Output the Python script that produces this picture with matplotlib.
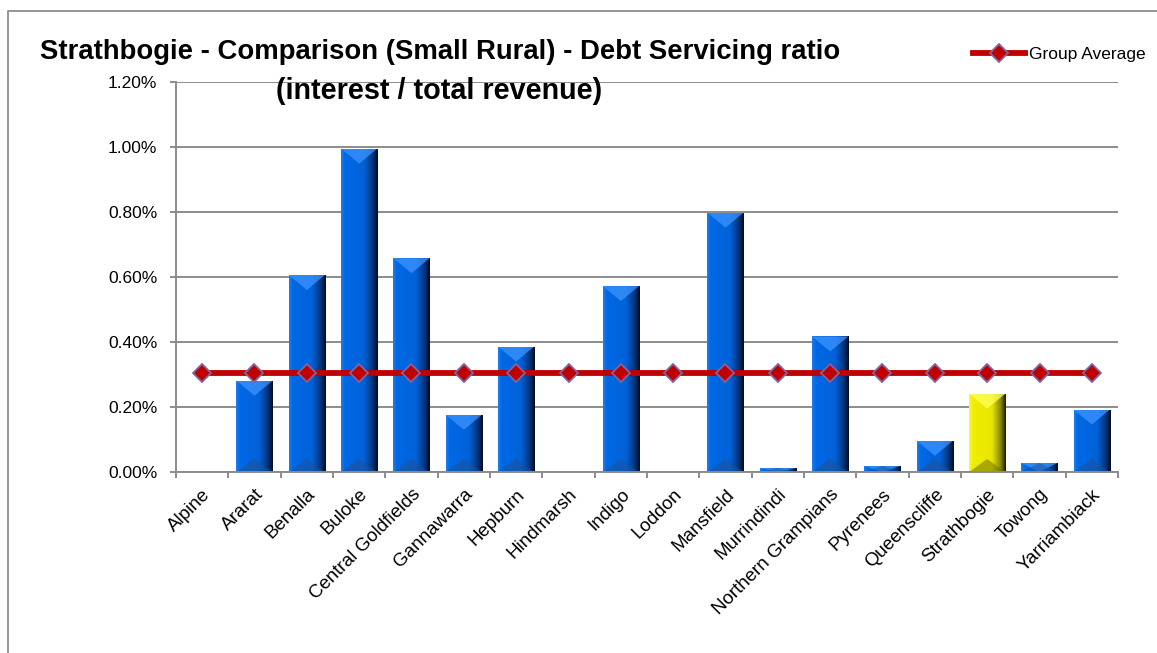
import numpy as np
import matplotlib
matplotlib.use("Agg")
import matplotlib.pyplot as plt
from matplotlib.patches import Polygon
from matplotlib.lines import Line2D
from matplotlib.ticker import FuncFormatter, MultipleLocator

councils = ["Alpine", "Ararat", "Benalla", "Buloke", "Central Goldfields",
            "Gannawarra", "Hepburn", "Hindmarsh", "Indigo", "Loddon",
            "Mansfield", "Murrindindi", "Northern Grampians", "Pyrenees",
            "Queenscliffe", "Strathbogie", "Towong", "Yarriambiack"]
# debt servicing ratio, as fraction
ratio = [0.0, 0.00281, 0.00606, 0.00995, 0.00658,
         0.00176, 0.00386, 0.0, 0.00572, 0.0,
         0.00798, 0.00012, 0.00417, 0.00019,
         0.00096, 0.00241, 0.00028, 0.00192]
group_avg = [0.00304] * len(councils)
highlight = "Strathbogie"

plt.rcParams['font.family'] = ['Liberation Sans', 'DejaVu Sans']

W, H = 1157, 653
fig = plt.figure(figsize=(W / 100, H / 100), dpi=100)
L, R, T, B = 176, 1118, 82, 472
ax = fig.add_axes([L / W, 1 - B / H, (R - L) / W, (B - T) / H])

# chart frame (only top and left edges are inside the picture)
fig.lines.append(Line2D([8 / W, 8 / W, 1.0], [0, 1 - 11 / H, 1 - 11 / H],
                        transform=fig.transFigure, color="#8c8c8c",
                        linewidth=1.3))

x = np.arange(len(councils))
base_cols = ["#f0ee00" if c == highlight else "#0066e0" for c in councils]
bars = ax.bar(x, ratio, width=0.69, color=base_cols, zorder=2)

ax.set_xlim(-0.5, len(councils) - 0.5)
ax.set_ylim(0, 0.012)

# pixel -> data scale for the bevel shapes
py = 0.012 / (B - T)


def grad(stops, n=80):
    t = np.linspace(0, 1, n)
    pos = [s[0] for s in stops]
    cols = np.array([matplotlib.colors.to_rgb(s[1]) for s in stops])
    img = np.zeros((1, n, 3))
    for k in range(3):
        img[0, :, k] = np.interp(t, pos, cols[:, k])
    return img


blue_img = grad([(0, "#1f7cf0"), (0.1, "#0068e4"), (0.62, "#0062da"),
                 (0.86, "#00357e"), (1, "#000c20")])
yellow_img = grad([(0, "#f8f640"), (0.1, "#f0ee00"), (0.62, "#e8e600"),
                   (0.86, "#8a8800"), (1, "#1c1c00")])

for b, c in zip(bars, councils):
    h = b.get_height()
    if h <= 0:
        continue
    x0, w = b.get_x(), b.get_width()
    img = yellow_img if c == highlight else blue_img
    im = ax.imshow(img, extent=(x0, x0 + w, 0, h), aspect="auto",
                   zorder=2.1, interpolation="bilinear")
    im.set_clip_path(b)
    d = min(15 * py, h)
    light = "#ffff60" if c == highlight else "#3d94ff"
    top = Polygon([(x0, h), (x0 + w, h), (x0 + w / 2, h - d)],
                  closed=True, facecolor=light, edgecolor="none",
                  alpha=0.75, zorder=2.2)
    ax.add_patch(top)
    top.set_clip_path(b)
    dark = "#6a6800" if c == highlight else "#23508f"
    bot = Polygon([(x0, 0), (x0 + w, 0), (x0 + w / 2, min(13 * py, h))],
                  closed=True, facecolor=dark, edgecolor="none",
                  alpha=0.5, zorder=2.2)
    ax.add_patch(bot)
    bot.set_clip_path(b)

ax.plot(x, group_avg, color="#c00000", linewidth=4.2, marker="D",
        markersize=9.5, markerfacecolor="#c00000", markeredgecolor="#8064a2",
        markeredgewidth=1.3, zorder=3, label="Group Average")

# axes styling
ax.yaxis.set_major_locator(MultipleLocator(0.002))
ax.yaxis.set_major_formatter(FuncFormatter(lambda v, p: f"{v * 100:.2f}%"))
ax.grid(axis="y", color="#8c8c8c", linewidth=1.4, zorder=0)
ax.set_axisbelow(True)
for s in ["top", "right"]:
    ax.spines[s].set_visible(False)
for s in ["left", "bottom"]:
    ax.spines[s].set_color("#8c8c8c")
    ax.spines[s].set_linewidth(1.4)

ax.set_xticks(x)
ax.set_xticklabels(councils, rotation=45, ha="right", va="top",
                   rotation_mode="anchor", fontsize=13.5)
ax.set_xticks(np.arange(-0.5, len(councils), 1), minor=True)
ax.tick_params(axis="x", which="major", length=0, pad=10)
ax.tick_params(axis="x", which="minor", length=4.5, width=1.4, color="#8c8c8c")
ax.tick_params(axis="y", length=4.5, width=1.4, color="#8c8c8c",
               labelsize=12.5, pad=9)

t1 = fig.text(40 / W, 1 - 59 / H,
              "Strathbogie - Comparison (Small Rural) - Debt Servicing ratio",
              fontsize=18, fontweight="bold", va="baseline", ha="left")
t2 = fig.text(439 / W, 1 - 99 / H, "(interest / total revenue)",
              fontsize=18, fontweight="bold", va="baseline", ha="center")

leg = fig.legend(loc="center right", bbox_to_anchor=(1146 / W, 1 - 54 / H),
                 frameon=False, fontsize=12.5, handlelength=3.0,
                 handletextpad=0.25, borderaxespad=0, borderpad=0)

# fit title widths to the picture
rend = fig.canvas.get_renderer()
for t, target in [(t1, 798), (t2, 326)]:
    wpx = t.get_window_extent(rend).width
    t.set_fontsize(t.get_fontsize() * target / wpx)

fig.savefig("out.png", dpi=100)
